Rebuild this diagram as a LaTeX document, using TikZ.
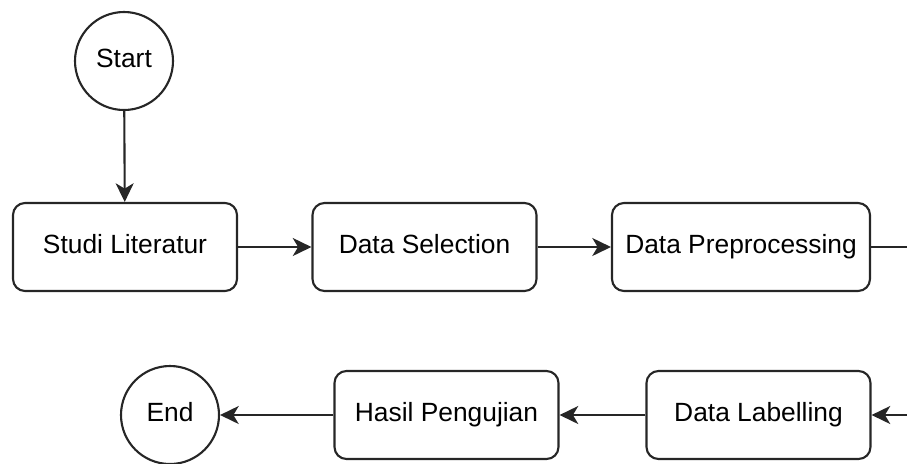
\documentclass[tikz,border=0pt]{standalone}
\usepackage{fontspec}
\setmainfont{Liberation Sans}
\usetikzlibrary{arrows.meta,positioning}
\tikzset{>={Stealth[length=5.6mm,width=5.4mm,inset=1.6mm]},
  every node/.style={font=\fontsize{22.5}{27}\selectfont,text height=16.4pt,text depth=4.6pt,text=black},
  terminal/.style={draw,circle,minimum size=2.94cm,inner sep=0pt},
  stepbox/.style={draw,rounded corners=3.6mm,minimum width=6.72cm,minimum height=2.64cm,inner sep=2pt},
  flow/.style={->,draw}}

\begin{document}
\begin{tikzpicture}[x=0.03cm,y=-0.03cm,line width=1.8pt,color=black!85]
\useasboundingbox (0,0) rectangle (907,463);
% upper row
\node[terminal] (start) at (124,61) {Start};
\node[stepbox] (studi) at (125,247) {Studi Literatur};
\node[stepbox] (select) at (424.5,247) {Data Selection};
\node[stepbox,minimum width=7.74cm] (prep) at (741,247) {Data Preprocessing};
\coordinate (outR) at (907,247);
% lower row, runs back to the left
\coordinate (inR) at (907,415);
\node[stepbox] (label) at (758.5,415) {Data Labelling};
\node[stepbox] (hasil) at (446.5,415) {Hasil Pengujian};
\node[terminal] (end) at (170,415) {End};
\draw[flow] (start) -- (studi);
\draw[flow] (studi) -- (select);
\draw[flow] (select) -- (prep);
\draw (prep) -- (outR);
\draw[flow] (inR) -- (label);
\draw[flow] (label) -- (hasil);
\draw[flow] (hasil) -- (end);
\end{tikzpicture}
\end{document}
